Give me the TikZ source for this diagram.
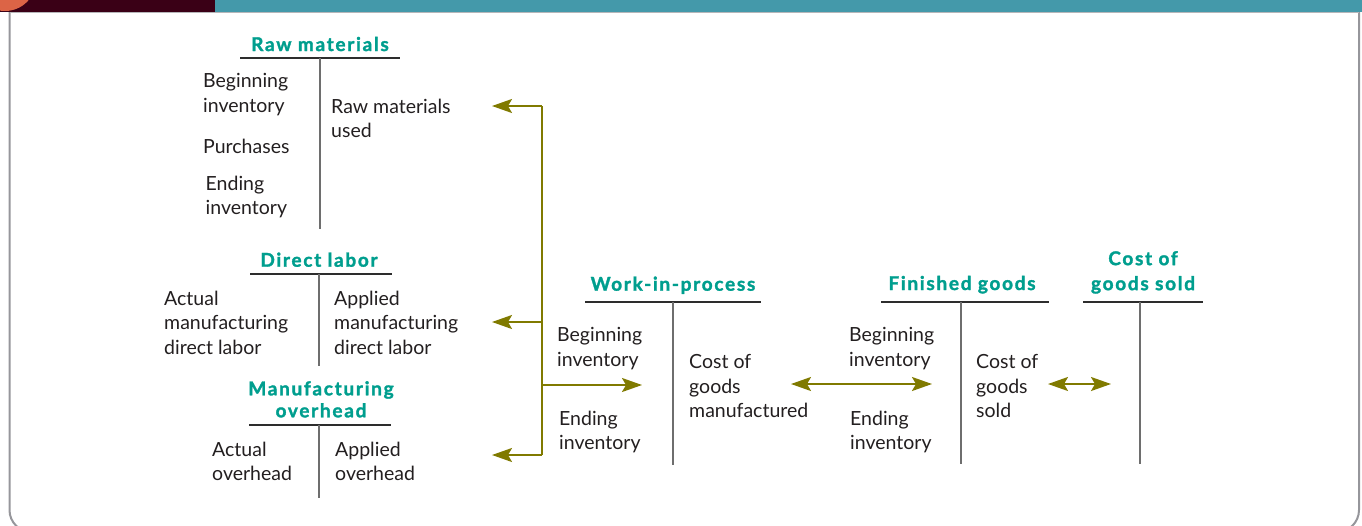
\documentclass[tikz,border=0pt]{standalone}
\usepackage{fontspec}
\setmainfont{Lato}
\newfontfamily\ttlfamily[LetterSpace=9,FakeBold=1.6]{Lato Bold}
\usetikzlibrary{arrows.meta}
\definecolor{ttlc}{RGB}{0,158,142}
\definecolor{txtc}{RGB}{35,31,32}
\definecolor{hc}{RGB}{45,45,45}
\definecolor{vc}{RGB}{110,110,110}
\definecolor{olivec}{RGB}{128,122,0}
\definecolor{barmaroon}{RGB}{58,0,22}
\definecolor{barteal}{RGB}{68,153,170}
\definecolor{orangec}{RGB}{220,100,70}
\definecolor{framec}{RGB}{150,150,155}
\begin{document}
\begin{tikzpicture}[x=1pt,y=-1pt,
  ttl/.style={font=\ttlfamily\fontsize{19}{22}\selectfont, text=ttlc, inner sep=0pt, align=center},
  txt/.style={font=\fontsize{19.5}{24.3}\selectfont, text=txtc, inner sep=0pt, align=left, anchor=north west},
  hline/.style={draw=hc, line width=2pt},
  vline/.style={draw=vc, line width=2pt},
  flow/.style={draw=olivec, line width=2pt},
  tip/.style={-{Stealth[length=20pt,width=14pt,inset=4pt]}},
  dtip/.style={{Stealth[length=20pt,width=14pt,inset=4pt]}-{Stealth[length=20pt,width=14pt,inset=4pt]}}
]
\useasboundingbox (0,0) rectangle (1362,525);
\begin{scope}
\clip (0,0) rectangle (1362,525);
% frame
\draw[framec, line width=2pt, rounded corners=22pt] (9.5,12) -- (9.5,532) -- (1359,532) -- (1359,12);
\draw[framec!70, line width=1pt] (9.5,12.5) -- (1359,12.5);
% top bar
\fill[barmaroon] (0,0) rectangle (215,12);
\fill[barteal] (215,0) rectangle (1362,12);
\begin{scope}
\clip (0,0) rectangle (215,12);
\fill[orangec] (5,-20) circle[radius=31];
\end{scope}
\end{scope}

% ---------- Raw materials ----------
\node[ttl, anchor=base] (rmT) at (320,51) {Raw materials};
\coordinate (rmL) at (240,58); \coordinate (rmR) at (400,58);
\coordinate (rmTop) at (320,58); \coordinate (rmBot) at (320,229);
\draw[hline] (rmL) -- (rmR);
\draw[vline] (rmTop) -- (rmBot);
\node[txt] (rm1) at (203,73.5) {Beginning\\inventory};
\node[txt] (rm2) at (203,138.5) {Purchases};
\node[txt] (rm3) at (205.5,176) {Ending\\inventory};
\node[txt] (rm4) at (331,99) {Raw materials\\used};

% ---------- Direct labor ----------
\node[ttl, anchor=base] (dlT) at (319,266.7) {Direct labor};
\coordinate (dlL) at (250,274); \coordinate (dlR) at (392,274);
\coordinate (dlTop) at (319,274); \coordinate (dlBot) at (319,366);
\draw[hline] (dlL) -- (dlR);
\draw[vline] (dlTop) -- (dlBot);
\node[txt] (dl1) at (164,291) {Actual\\manufacturing\\direct labor};
\node[txt] (dl2) at (334,291) {Applied\\manufacturing\\direct labor};

% ---------- Manufacturing overhead ----------
\node[ttl, anchor=north] (ohT) at (321,381) {Manufacturing\\overhead};
\coordinate (ohL) at (249,425); \coordinate (ohR) at (391,425);
\coordinate (ohTop) at (319,425); \coordinate (ohBot) at (319,498);
\draw[hline] (ohL) -- (ohR);
\draw[vline] (ohTop) -- (ohBot);
\node[txt] (oh1) at (212,441.5) {Actual\\overhead};
\node[txt] (oh2) at (335,441.5) {Applied\\overhead};

% ---------- Work-in-process ----------
\node[ttl, anchor=base] (wpT) at (673,290.7) {Work-in-process};
\coordinate (wpL) at (585,302); \coordinate (wpR) at (761,302);
\coordinate (wpTop) at (673,302); \coordinate (wpBot) at (673,465);
\draw[hline] (wpL) -- (wpR);
\draw[vline] (wpTop) -- (wpBot);
\node[txt] (wp1) at (557,327.5) {Beginning\\inventory};
\node[txt] (wp2) at (559,411) {Ending\\inventory};
\node[txt] (wp3) at (689,354.5) {Cost of\\goods\\manufactured};

% ---------- Finished goods ----------
\node[ttl, anchor=base] (fgT) at (962,290) {Finished goods};
\coordinate (fgL) at (881,302); \coordinate (fgR) at (1049,302);
\coordinate (fgTop) at (961,302); \coordinate (fgBot) at (961,464);
\draw[hline] (fgL) -- (fgR);
\draw[vline] (fgTop) -- (fgBot);
\node[txt] (fg1) at (849,327.5) {Beginning\\inventory};
\node[txt] (fg2) at (850,411) {Ending\\inventory};
\node[txt] (fg3) at (976,354.5) {Cost of\\goods\\sold};

% ---------- Cost of goods sold ----------
\node[ttl, anchor=north, font=\ttlfamily\fontsize{19}{25}\selectfont] (csT) at (1143,251) {Cost of\\goods sold};
\coordinate (csL) at (1083,302); \coordinate (csR) at (1203,302);
\coordinate (csTop) at (1140,302); \coordinate (csBot) at (1140,464);
\draw[hline] (csL) -- (csR);
\draw[vline] (csTop) -- (csBot);

% ---------- flows ----------
\coordinate (b1) at (542,106); \coordinate (b2) at (542,322);
\coordinate (b3) at (542,385); \coordinate (b4) at (542,455);
\coordinate (a1) at (492,106); \coordinate (a2) at (492,322);
\coordinate (a3) at (642,385); \coordinate (a4) at (492,455);
\draw[flow] (b1) -- (b4);
\draw[flow, tip] (b1) -- (a1);
\draw[flow, tip] (b2) -- (a2);
\draw[flow, tip] (b3) -- (a3);
\draw[flow, tip] (b4) -- (a4);
\coordinate (d1) at (791,384); \coordinate (d2) at (932,384);
\coordinate (d3) at (1048,384); \coordinate (d4) at (1111,384);
\draw[flow, dtip] (d1) -- (d2);
\draw[flow, dtip] (d3) -- (d4);
\end{tikzpicture}
\end{document}
